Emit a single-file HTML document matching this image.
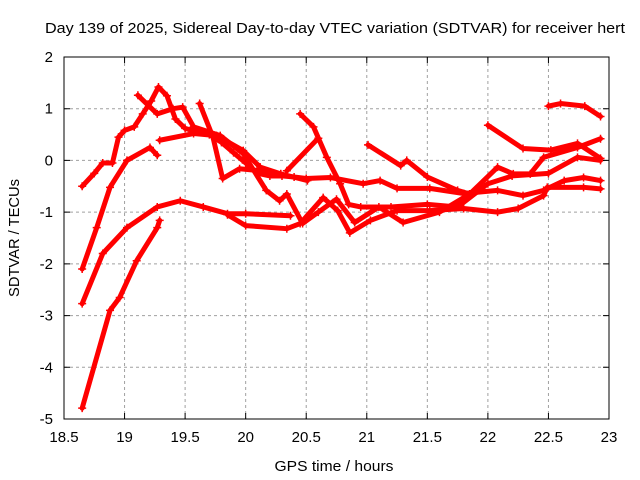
<!DOCTYPE html>
<html><head><meta charset="utf-8"><style>
body{margin:0;background:#fff}
svg{display:block;font-family:"Liberation Sans",sans-serif}
</style></head><body>
<svg id="c" width="640" height="480">
<rect width="640" height="480" fill="#fff"/>
<text x="335" y="33" font-size="15" text-anchor="middle" textLength="580" lengthAdjust="spacingAndGlyphs">Day 139 of 2025, Sidereal Day-to-day VTEC variation (SDTVAR) for receiver hert</text>
<g id="grid"></g>
<g id="series"></g>
<rect x="64" y="57" width="545" height="362" fill="none" stroke="#000" stroke-width="1"/>
<g id="axes"></g>
<text x="334" y="471" font-size="15" text-anchor="middle" textLength="119" lengthAdjust="spacingAndGlyphs">GPS time / hours</text>
<text transform="translate(19,238) rotate(-90)" font-size="15" text-anchor="middle" textLength="118" lengthAdjust="spacingAndGlyphs">SDTVAR / TECUs</text>
</svg>
<script>
const xTicks=[18.5,19,19.5,20,20.5,21,21.5,22,22.5,23];
const xTickLabels=["18.5","19","19.5","20","20.5","21","21.5","22","22.5","23"];
const yTicks=[2,1,0,-1,-2,-3,-4,-5];
const yTickLabels=["2","1","0","-1","-2","-3","-4","-5"];
const seriesA=[[18.65,-0.5],[18.75,-0.25],[18.82,-0.05],[18.9,-0.05],[18.95,0.45],[19.0,0.58],[19.08,0.65],[19.15,0.9],[19.22,1.15],[19.28,1.42],[19.35,1.25],[19.42,0.8],[19.5,0.62],[19.6,0.55],[19.7,0.5],[19.8,0.35],[19.9,0.15],[20.0,-0.05],[20.1,-0.25],[20.2,-0.3],[20.3,-0.3],[20.4,-0.32],[20.5,-0.35],[20.7,-0.33],[20.97,-0.45],[21.11,-0.39],[21.25,-0.54],[21.52,-0.54],[21.8,-0.64],[22.08,-0.58],[22.29,-0.68],[22.46,-0.58],[22.63,-0.39],[22.79,-0.33],[22.93,-0.39]];
const seriesB=[[18.65,-2.77],[18.82,-1.8],[19.02,-1.3],[19.27,-0.9],[19.46,-0.78],[19.65,-0.9],[19.85,-1.03],[20.0,-1.03],[20.37,-1.07]];
const seriesC=[[19.85,-1.05],[20.0,-1.26],[20.34,-1.32],[20.45,-1.22],[20.64,-0.72],[20.76,-0.97],[20.86,-1.4],[21.03,-1.16],[21.25,-0.97],[21.52,-0.97],[21.8,-0.93],[22.08,-1.0],[22.25,-0.93],[22.46,-0.68],[22.49,-0.52],[22.79,-0.52],[22.93,-0.55]];
const seriesD=[[18.65,-4.79],[18.88,-2.9],[18.96,-2.65],[19.1,-1.94],[19.27,-1.3],[19.29,-1.16]];
const seriesE=[[18.65,-2.1],[18.77,-1.3],[18.88,-0.52],[19.02,0],[19.21,0.25],[19.27,0.1]];
const seriesF=[[19.29,0.39],[19.57,0.52],[19.76,0.48],[19.98,0.19],[20.12,-0.13],[20.29,-0.26],[20.51,-0.39]];
const seriesG=[[20.45,0.9],[20.56,0.65],[20.67,0.06],[20.78,-0.45],[20.85,-0.85],[20.95,-0.9],[21.2,-0.9],[21.5,-0.85],[21.75,-0.9],[22.0,-0.45],[22.2,-0.3],[22.5,-0.25],[22.74,0.06],[22.93,0]];
const seriesH=[[20.34,-0.2],[20.6,0.43]];
const seriesI=[[19.62,1.1],[19.73,0.45],[19.81,-0.35],[19.95,-0.16],[20.12,-0.2],[20.29,-0.26]];
const seriesJ=[[19.11,1.26],[19.27,0.9],[19.4,1.0],[19.48,1.03],[19.57,0.65],[19.79,0.48],[19.98,0.13],[20.17,-0.58],[20.28,-0.78],[20.34,-0.65],[20.47,-1.22],[20.6,-1.0],[20.75,-0.75],[20.9,-1.2],[21.1,-0.9],[21.3,-1.2],[21.6,-1.0],[21.85,-0.65],[22.08,-0.13],[22.21,-0.26],[22.35,-0.26],[22.46,0.06],[22.74,0.25],[22.93,0.42]];
const seriesK=[[21.01,0.3],[21.28,-0.1],[21.33,0],[21.5,-0.32],[21.75,-0.58],[21.85,-0.65]];
const seriesL=[[22.0,0.68],[22.29,0.23],[22.52,0.2],[22.74,0.33],[22.93,0.04]];
const seriesM=[[22.5,1.05],[22.6,1.1],[22.8,1.05],[22.93,0.85]];
const allSeries=[seriesA,seriesB,seriesC,seriesD,seriesE,seriesF,seriesG,seriesH,seriesI,seriesJ,seriesK,seriesL,seriesM];
const X=h=>64+(h-18.5)*(545/4.5);
const Y=v=>57+(2-v)*(362/7);
const NS="http://www.w3.org/2000/svg";
const grid=document.getElementById('grid'),axes=document.getElementById('axes'),sg=document.getElementById('series');
function mk(t,a){const e=document.createElementNS(NS,t);for(const k in a)e.setAttribute(k,a[k]);return e;}
xTicks.forEach((t,i)=>{const x=X(t);
 if(i>0&&i<xTicks.length-1){const g=mk('line',{x1:x,x2:x,y1:57,y2:419,stroke:'#a0a0a0','stroke-dasharray':'3,3'});
 
 grid.appendChild(g);}
 const tk=mk('path',{d:`M${x},419v-6M${x},57v6`,stroke:'#000'});
 
 axes.appendChild(tk);
 const l=mk('text',{x:x,y:442,'font-size':15,'text-anchor':'middle'});l.textContent=xTickLabels[i];
 
 axes.appendChild(l);});
yTicks.forEach((t,i)=>{const y=Y(t);
 if(i>0&&i<yTicks.length-1){const g=mk('line',{x1:64,x2:609,y1:y,y2:y,stroke:'#a0a0a0','stroke-dasharray':'3,3'});
 
 grid.appendChild(g);}
 const tk=mk('path',{d:`M64,${y}h6M609,${y}h-6`,stroke:'#000'});
 
 axes.appendChild(tk);
 const l=mk('text',{x:53,y:y+5,'font-size':15,'text-anchor':'end'});l.textContent=yTickLabels[i];
 
 axes.appendChild(l);});
allSeries.forEach((s,si)=>{
 const pl=mk('polyline',{points:s.map(p=>X(p[0])+','+Y(p[1])).join(' '),fill:'none',stroke:'#ff0000','stroke-width':5,'stroke-linejoin':'round','stroke-linecap':'round'});
 
 sg.appendChild(pl);
 s.forEach(p=>{const x=X(p[0]),y=Y(p[1]);
  const m=mk('path',{d:`M${x-4},${y}h8M${x},${y-4}v8`,stroke:'#ff0000','stroke-width':1.5});
  
  sg.appendChild(m);});
});
</script>
</body></html>
